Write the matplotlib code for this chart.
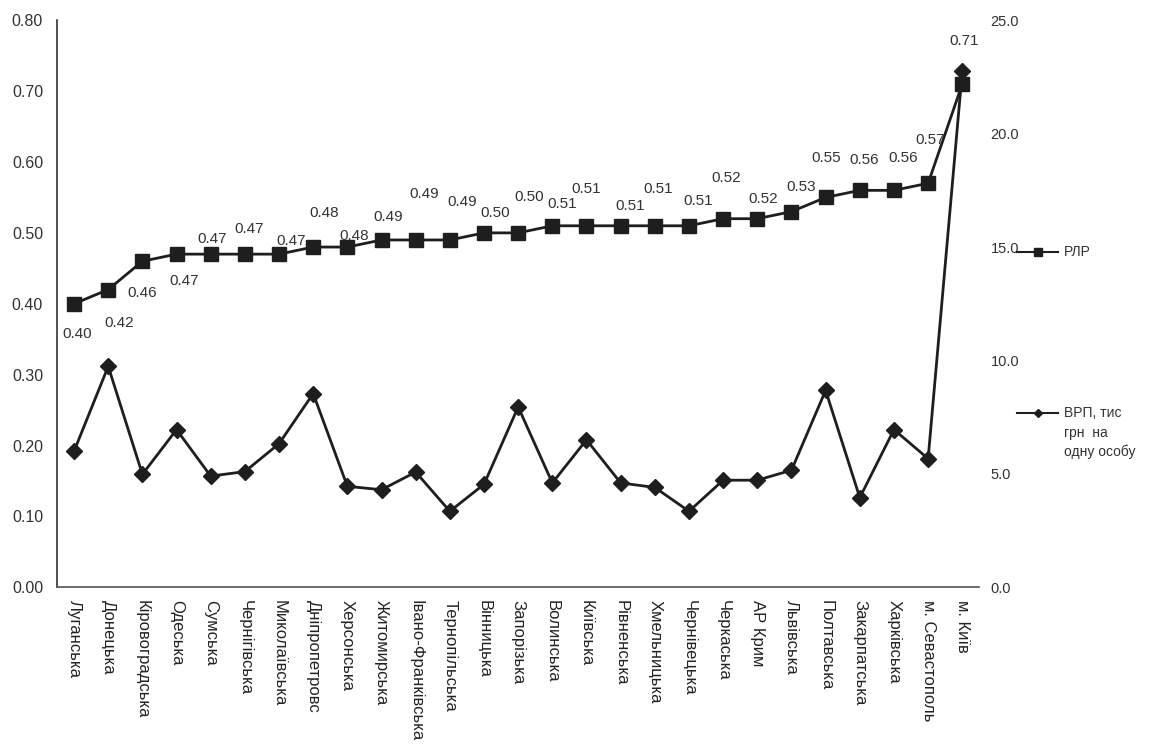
import matplotlib
matplotlib.use("Agg")
import matplotlib.pyplot as plt
from matplotlib.lines import Line2D

plt.rcParams['font.family'] = ['Liberation Sans', 'DejaVu Sans']

regions = ["Луганська", "Донецька", "Кіровоградська", "Одеська", "Сумська",
           "Чернігівська", "Миколаївська", "Дніпропетровс", "Херсонська",
           "Житомирська", "Івано-Франківська", "Тернопільська", "Вінницька",
           "Запорізька", "Волинська", "Київська", "Рівненська", "Хмельницька",
           "Чернівецька", "Черкаська", "АР Крим", "Львівська", "Полтавська",
           "Закарпатська", "Харківська", "м. Севастополь", "м. Київ"]

rlr = [0.40, 0.42, 0.46, 0.47, 0.47, 0.47, 0.47, 0.48, 0.48, 0.49, 0.49, 0.49,
       0.50, 0.50, 0.51, 0.51, 0.51, 0.51, 0.51, 0.52, 0.52, 0.53, 0.55, 0.56,
       0.56, 0.57, 0.71]

vrp = [6.0, 9.74, 4.98, 6.95, 4.9, 5.1, 6.33, 8.54, 4.45, 4.3, 5.08, 3.35,
       4.54, 7.95, 4.6, 6.5, 4.6, 4.4, 3.35, 4.72, 4.72, 5.16, 8.68, 3.95,
       6.95, 5.67, 22.75]

left_ticks = [0.0, 0.1, 0.2, 0.3, 0.4, 0.5, 0.6, 0.7, 0.8]
right_ticks = [0, 5, 10, 15, 20, 25]

# label offsets in pixels (dx, dy), style only
label_offsets = [(3, -30), (11, -33), (0, -32), (8, -27), (1, 15), (4, 25),
                 (12, 13), (11, 34), (7, 11), (7, 23), (8, 46), (12, 38),
                 (11, 20), (11, 36), (10, 22), (0, 37), (10, 20), (3, 37),
                 (9, 25), (3, 41), (6, 20), (10, 25), (1, 39), (4, 30),
                 (9, 32), (2, 43), (2, 43)]

col = '#1e1e1e'
fig = plt.figure(figsize=(11.75, 7.5), dpi=100)
ax = fig.add_axes([0.0485, 0.217, 0.785, 0.756])
x = list(range(len(regions)))

ax2 = ax.twinx()
ax2.plot(x, vrp, color=col, lw=2.0, marker='D', markersize=8, zorder=2)
ax2.set_ylim(0, 25)
ax2.set_yticks(right_ticks)
ax2.set_yticklabels([f"{t:.1f}" for t in right_ticks], fontsize=10.5, color='#333')

ax.set_zorder(ax2.get_zorder() + 1)
ax.patch.set_visible(False)
ax.plot(x, rlr, color=col, lw=2.0, marker='s', markersize=10, zorder=3)
for i, v in enumerate(rlr):
    dx, dy = label_offsets[i]
    ax.annotate(f"{v:.2f}", (i, v), xytext=(dx, dy), textcoords='offset pixels',
                ha='center', va='center', fontsize=11, color='#333')

ax.set_ylim(0, 0.8)
ax.set_xlim(-0.5, len(regions) - 0.5)
ax.set_yticks(left_ticks)
ax.set_yticklabels([f"{t:.2f}" for t in left_ticks], fontsize=11.5, color='#333')
ax.set_xticks(x)
ax.set_xticklabels(regions, rotation=-90, fontsize=12, color='#222',
                   va='top', ha='center')

for a in (ax, ax2):
    a.spines['top'].set_visible(False)
    a.spines['right'].set_visible(False)
    a.tick_params(length=0)
ax2.spines['left'].set_visible(False)
ax2.spines['bottom'].set_visible(False)
ax.spines['left'].set_color('#333')
ax.spines['bottom'].set_color('#555')
ax.spines['left'].set_linewidth(1.2)
ax.spines['bottom'].set_linewidth(1.2)
ax.tick_params(axis='y', pad=10)
ax.tick_params(axis='x', pad=9)
ax2.tick_params(axis='y', pad=8)

# legend drawn manually (handles aligned with first text line)
def legend_entry(yfig, marker, ms, lines):
    x0, x1 = 1017 / 1175, 1058 / 1175
    fig.add_artist(Line2D([x0, (x0 + x1) / 2, x1], [yfig] * 3, transform=fig.transFigure,
                          color=col, lw=1.5, marker=marker, markersize=ms,
                          markevery=[1]))
    for k, t in enumerate(lines):
        fig.text(1064 / 1175, yfig - k * 19.5 / 750, t, fontsize=10, color='#333',
                 va='center', ha='left')

legend_entry(1 - 252 / 750, 's', 6, ["РЛР"])
legend_entry(1 - 413 / 750, 'D', 4.5, ["ВРП, тис", "грн  на", "одну особу"])

fig.savefig("out.png", dpi=100, facecolor='white')
